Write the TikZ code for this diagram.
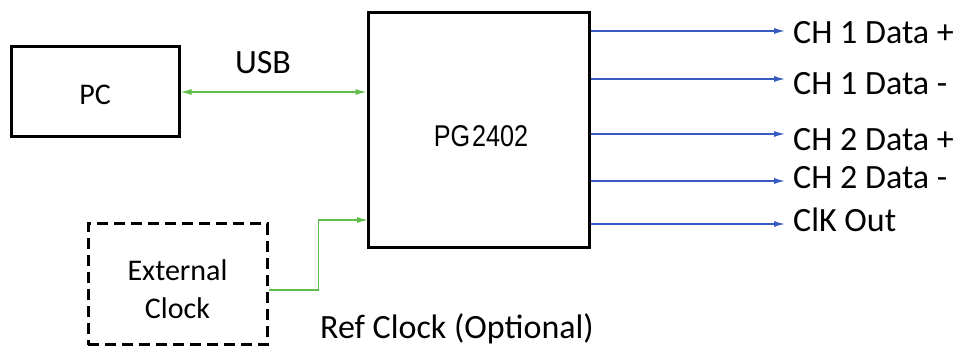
\documentclass[tikz,border=0pt]{standalone}
\usepackage{fontspec}
\setmainfont{Carlito}
\newfontfamily\pgfont{Liberation Sans}
\usetikzlibrary{arrows.meta}
\definecolor{usbgreen}{RGB}{95,190,75}
\definecolor{outblue}{RGB}{55,90,195}
\tikzset{
  blockbox/.style={draw=black, line width=3pt, inner sep=0pt},
  dashbox/.style={draw=black, line width=3pt, inner sep=0pt, dash pattern=on 11pt off 6pt},
  lbl/.style={font=\fontsize{34}{38}\selectfont, inner sep=0pt},
  gline/.style={draw=usbgreen, line width=1.3pt},
  bline/.style={draw=outblue, line width=1.3pt, -{Latex[length=11pt,width=6pt]}}
}
\begin{document}
\begin{tikzpicture}[x=1pt,y=-1pt]
\clip (0,0) rectangle (964,347);
\fill[white] (0,0) rectangle (964,347);
% boxes
\node[blockbox, minimum width=168pt, minimum height=90pt] (PC) at (95,92) {};
\node[blockbox, minimum width=221pt, minimum height=235pt] (PG) at (478.5,130.5) {};
\node[dashbox, minimum width=179pt, minimum height=121pt] (EXT) at (177.5,284.5) {};
% box texts
\node[lbl, font=\fontsize{30}{30}\selectfont] (pctext) at ([yshift=-3pt]PC.center) {PC};
\node[inner sep=0pt] (pgtext) at ([xshift=2.5pt,yshift=-5.5pt]PG.center) {\pgfont\fontsize{30}{30}\selectfont\scalebox{0.84}[1]{PG\hspace{2pt}2402}};
\node[lbl, font=\fontsize{30}{38}\selectfont, align=center] (exttext) at ([yshift=-4.5pt]EXT.center) {External\\Clock};
% USB
\draw[gline, {Latex[length=11pt,width=6pt]}-{Latex[length=11pt,width=6pt]}] (PC.east) -- (PC.east -| PG.west);
\node[lbl] (usb) at (263,63) {USB};
% ref clock
\coordinate (refstart) at ([yshift=-5.5pt]EXT.east);
\coordinate (refin) at (368,220);
\draw[gline, -{Latex[length=11pt,width=6pt]}] (refstart) -- ++(50,0) |- (refin);
\node[lbl, anchor=base west] (reflbl) at (320,338.5) {Ref Clock (Optional)};
% outputs
\coordinate (e1) at (785,31);
\coordinate (e2) at (785,79);
\coordinate (e3) at (785,134);
\coordinate (e4) at (785,181);
\coordinate (e5) at (785,224);
\draw[bline] (PG.east |- e1) -- (e1);
\draw[bline] (PG.east |- e2) -- (e2);
\draw[bline] (PG.east |- e3) -- (e3);
\draw[bline] (PG.east |- e4) -- (e4);
\draw[bline] (PG.east |- e5) -- (e5);
\node[lbl, anchor=west] (o1) at (793,33) {CH 1 Data +};
\node[lbl, anchor=west] (o2) at (793,84) {CH 1 Data -};
\node[lbl, anchor=west] (o3) at (793,140) {CH 2 Data +};
\node[lbl, anchor=west] (o4) at (793,178) {CH 2 Data -};
\node[lbl, anchor=west] (o5) at (793,220) {ClK Out};
\end{tikzpicture}
\end{document}
